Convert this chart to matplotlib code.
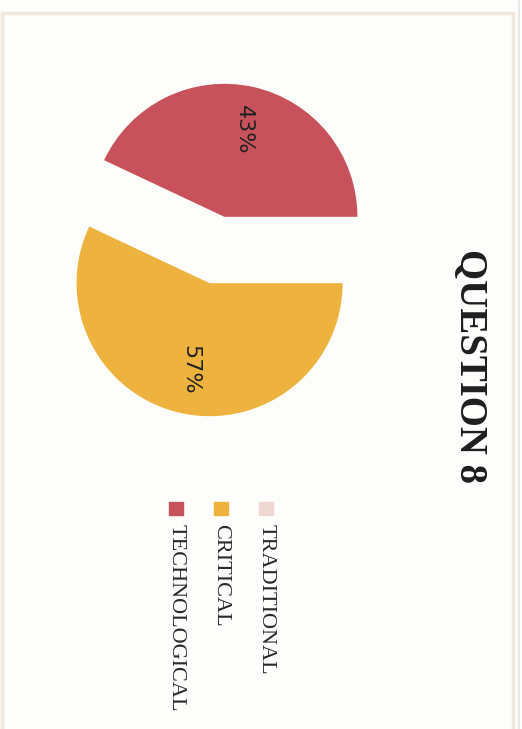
import matplotlib

matplotlib.use("Agg")
import matplotlib.pyplot as plt
from matplotlib.patches import Rectangle
from matplotlib.lines import Line2D

# dados da questão 8
categorias = ["TRADITIONAL", "CRITICAL", "TECHNOLOGICAL"]
cores = ["#F0D8D2", "#EDB33E", "#C8525C"]
fatias = ["TECHNOLOGICAL", "CRITICAL"]      # só as que têm valor
valores = [43, 57]
titulo = "QUESTION 8"

W, H = 522, 729
fig = plt.figure(figsize=(W / 100, H / 100), dpi=100)
fig.patch.set_facecolor("#FDFDFB")

# eixo ocupando a figura toda, 1 unidade = 1 pixel
ax = fig.add_axes((0, 0, 1, 1))
cor_fatia = {c: k for c, k in zip(categorias, cores)}
ax.pie(valores, colors=[cor_fatia[f] for f in fatias], startangle=0,
       center=(217, H - 250), radius=133, explode=[34, 34],
       autopct="%.0f%%", pctdistance=0.67,
       textprops=dict(rotation=-90, fontsize=16, family="DejaVu Sans",
                      color="#222222"))
ax.set_xlim(0, W)
ax.set_ylim(0, H)
ax.set_aspect("equal")
ax.axis("off")

# título (página girada)
fig.text(470 / W, 1 - 366 / H, titulo, rotation=-90, ha="center", va="center",
         fontsize=28, fontweight="bold", family="Liberation Serif",
         color="#1E1E1E")

# legenda manual, também girada
for i, (cat, cor) in enumerate(zip(categorias, cores)):
    x = 266 - 45 * i
    fig.patches.append(Rectangle(((x - 7) / W, 1 - 515 / H), 14 / W, 13 / H,
                                 transform=fig.transFigure, color=cor,
                                 figure=fig))
    fig.text(x / W, 1 - 524 / H, cat, rotation=-90, ha="center", va="top",
             fontsize=16, family="Liberation Serif", color="#2A2A2A")

# moldura clara da página
moldura = dict(transform=fig.transFigure, color="#F1E7DC", lw=2.5)
fig.lines.append(Line2D([2 / W, 513 / W], [1 - 13 / H, 1 - 13 / H], **moldura))
fig.lines.append(Line2D([513 / W, 513 / W], [0, 1 - 13 / H], **moldura))
fig.lines.append(Line2D([2 / W, 2 / W], [0, 1 - 13 / H], **moldura))
fig.lines.append(Line2D([519 / W, 519 / W], [0, 1], transform=fig.transFigure,
                        color="#E8E8E8", lw=1.5))

fig.savefig("out.png", dpi=100, facecolor=fig.get_facecolor())
plt.close(fig)
